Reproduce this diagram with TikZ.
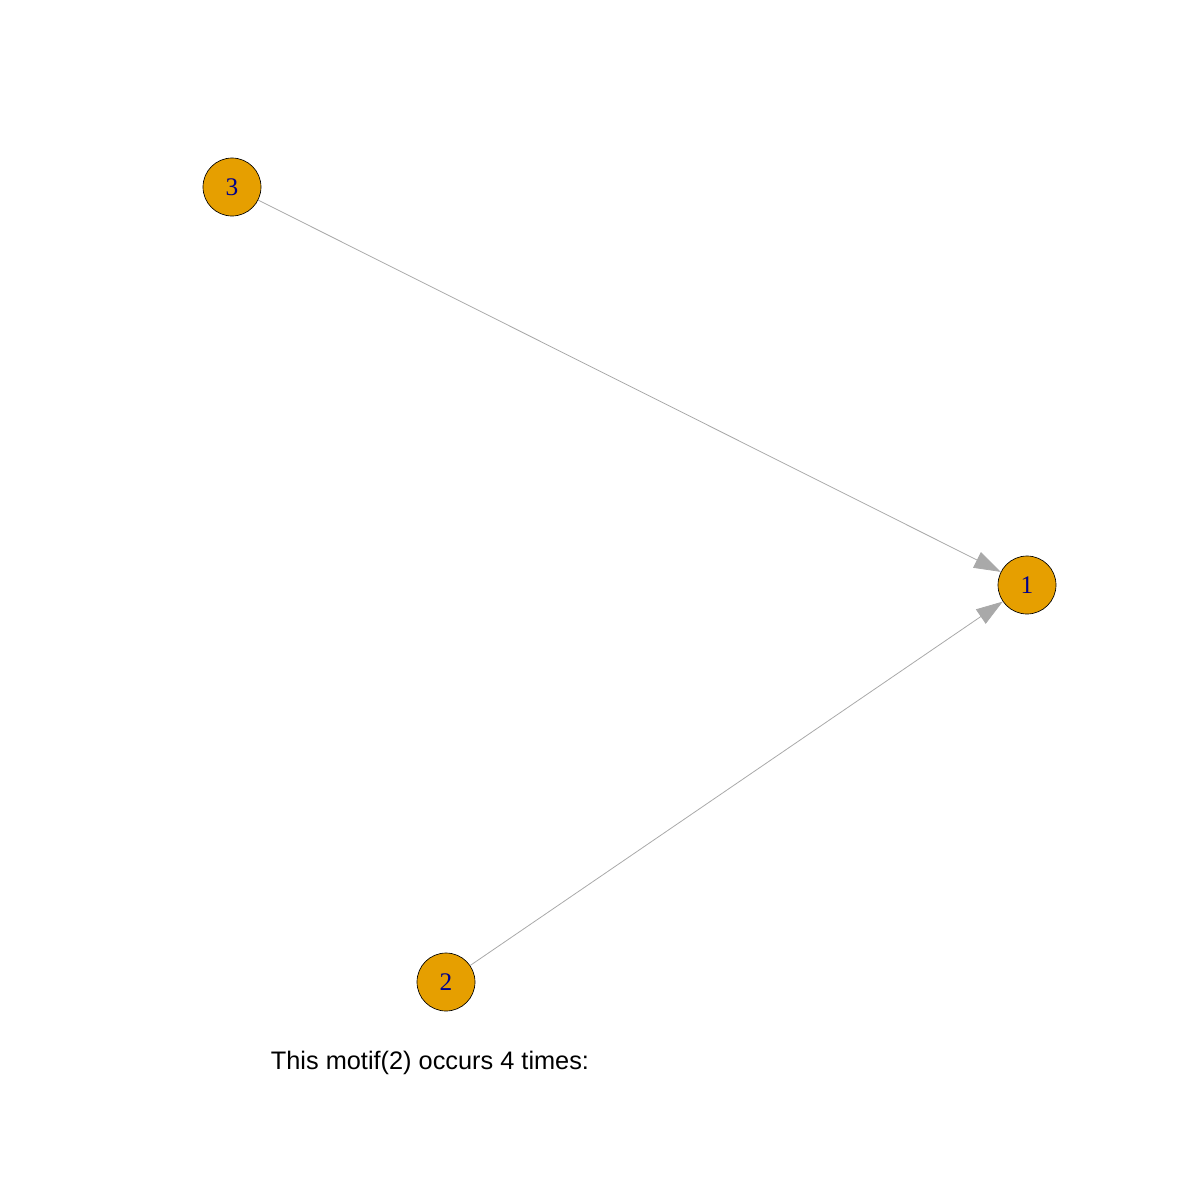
\documentclass[tikz,border=0pt]{standalone}
\usepackage{fontspec}
\setmainfont{Liberation Sans}
\newfontfamily\labelfont{Liberation Serif}
\usetikzlibrary{arrows.meta}
\definecolor{vertexfill}{HTML}{E69F00}
\definecolor{edgegrey}{HTML}{A9A9A9}
\definecolor{labelblue}{HTML}{00008B}
\tikzset{every picture/.style={line width=0.75pt}}
\tikzset{
  vertex/.style={circle, draw=black, line width=0.5pt, fill=vertexfill, minimum size=43.5pt, inner sep=0pt, text=labelblue, font=\labelfont\fontsize{19}{19}\selectfont},
  edge/.style={draw=edgegrey, line width=0.6pt, -{Triangle[length=20pt, width=13pt, fill=edgegrey]}}
}
\begin{document}
\begin{tikzpicture}[x=0.75pt,y=0.75pt,yscale=-1,xscale=1]
\useasboundingbox (0,0) rectangle (1200,1200);

% Vertices
\node [vertex] (v1) at (1027,585) {1};
\node [vertex] (v2) at (446,982) {2};
\node [vertex] (v3) at (232,187) {3};

% Edges
\draw [edge] (v3) -- (v1);
\draw [edge] (v2) -- (v1);

% Text Node
\node [anchor=base, font=\fontsize{19}{19}\selectfont] (caption) at (430,1069) {This motif(2) occurs 4 times:};

\end{tikzpicture}
\end{document}
